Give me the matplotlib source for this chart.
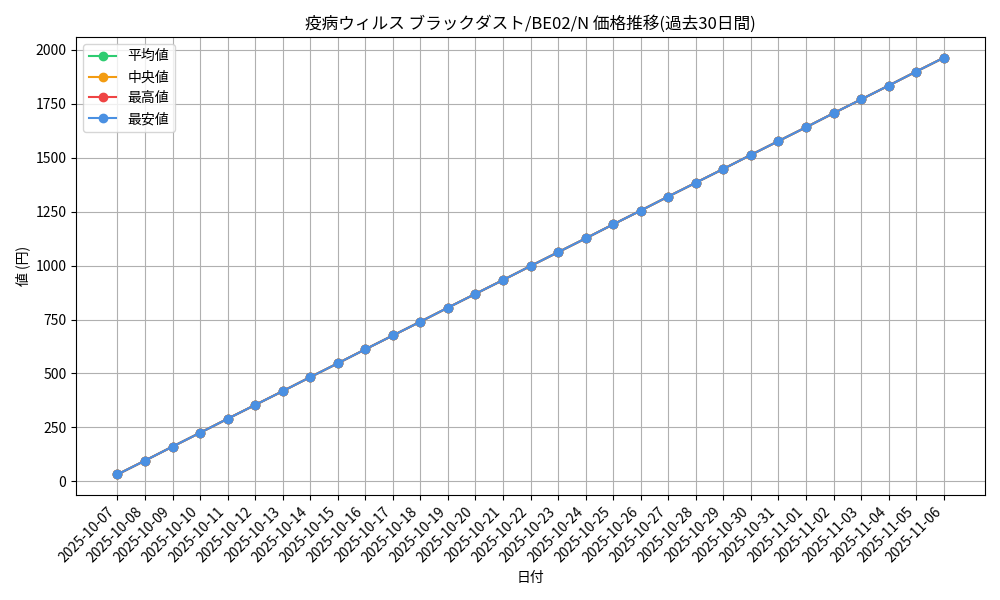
import matplotlib
matplotlib.use("Agg")
import matplotlib.pyplot as plt

plt.rcParams['font.family'] = ['Noto Sans CJK JP', 'DejaVu Sans']

dates = ["2025-10-07", "2025-10-08", "2025-10-09", "2025-10-10", "2025-10-11",
         "2025-10-12", "2025-10-13", "2025-10-14", "2025-10-15", "2025-10-16",
         "2025-10-17", "2025-10-18", "2025-10-19", "2025-10-20", "2025-10-21",
         "2025-10-22", "2025-10-23", "2025-10-24", "2025-10-25", "2025-10-26",
         "2025-10-27", "2025-10-28", "2025-10-29", "2025-10-30", "2025-10-31",
         "2025-11-01", "2025-11-02", "2025-11-03", "2025-11-04", "2025-11-05",
         "2025-11-06"]
prices = [32, 96, 161, 225, 290, 354, 418, 483, 547, 612, 676, 740, 805, 869,
          933, 998, 1062, 1126, 1191, 1255, 1320, 1384, 1448, 1513, 1577, 1641,
          1706, 1770, 1834, 1899, 1963]
avg_vals = prices
median_vals = prices
high_vals = prices
low_vals = prices

fig, ax = plt.subplots(figsize=(10, 6), dpi=100)
xs = range(len(dates))
ax.plot(xs, avg_vals, marker="o", color="#2ecc71", label="平均値")
ax.plot(xs, median_vals, marker="o", color="#f39c12", label="中央値")
ax.plot(xs, high_vals, marker="o", color="#ef4444", label="最高値")
ax.plot(xs, low_vals, marker="o", color="#4a90e2", label="最安値")

ax.set_xticks(list(xs))
ax.set_xticklabels(dates, rotation=45, ha="right")
ax.set_title("疫病ウィルス ブラックダスト/BE02/N 価格推移(過去30日間)")
ax.set_xlabel("日付")
ax.set_ylabel("値 (円)")
ax.grid(True)
ax.legend(loc="upper left")

fig.tight_layout()
fig.savefig("out.png")
